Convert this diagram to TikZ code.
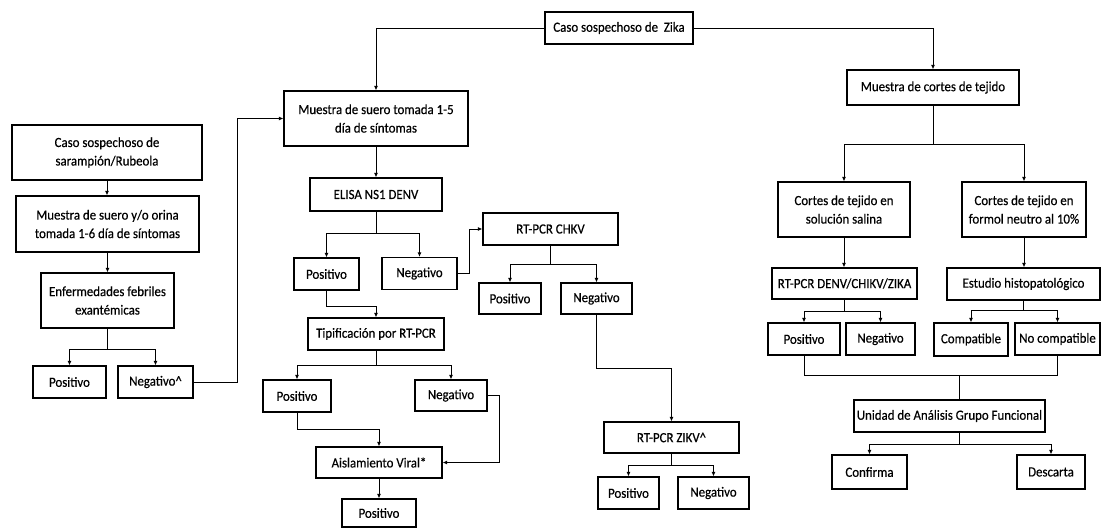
\documentclass[tikz,border=0pt]{standalone}
\usepackage{fontspec}
\setmainfont{Carlito}[FakeStretch=0.92, FakeBold=0.4]
\usetikzlibrary{arrows.meta}

\begin{document}
\begin{tikzpicture}[x=1pt, y=-1pt, font=\fontsize{14}{18.5}\selectfont,
        box/.style = {draw, line width=1.2pt, align=center, inner sep=1pt},
        line/.style = {line width=1pt},
        >={Latex[length=4.5pt,width=4pt]}]
        \useasboundingbox (0,0) rectangle (1101,528);

        \node[box, minimum width=148, minimum height=32] (zika) at (619,28) {Caso sospechoso de~ Zika};

        \node[box, minimum width=184, minimum height=55] (suero) at (376,118.5) {Muestra de suero tomada 1-5\\día de síntomas};
        \node[box, minimum width=132, minimum height=33] (elisa) at (376,194.5) {ELISA NS1 DENV};
        \node[box, minimum width=65, minimum height=32] (pos1) at (326.5,274) {Positivo};
        \node[box, minimum width=75, minimum height=32] (neg1) at (419.5,273.5) {Negativo};
        \node[box, minimum width=135, minimum height=32] (chkv) at (550.5,229) {RT-PCR CHKV};
        \node[box, minimum width=62, minimum height=31] (pos2) at (510,298.5) {Positivo};
        \node[box, minimum width=71, minimum height=31] (neg2) at (596.5,298.5) {Negativo};
        \node[box, minimum width=135, minimum height=31] (zikv) at (671.5,437.5) {RT-PCR ZIKV\^{}};
        \node[box, minimum width=61, minimum height=32] (pos3) at (628.5,493) {Positivo};
        \node[box, minimum width=71, minimum height=32] (neg3) at (713.5,493) {Negativo};
        \node[box, minimum width=136, minimum height=32] (tipif) at (376,334) {Tipificación por RT-PCR};
        \node[box, minimum width=68, minimum height=32] (pos4) at (297,396) {Positivo};
        \node[box, minimum width=72, minimum height=31] (neg4) at (451,395.5) {Negativo};
        \node[box, minimum width=126, minimum height=31] (aisl) at (379,462.5) {Aislamiento Viral*};
        \node[box, minimum width=74, minimum height=28] (pos5) at (379,513) {Positivo};

        \node[box, minimum width=190, minimum height=55] (caso) at (107,152.5) {Caso sospechoso de\\sarampión/Rubeola};
        \node[box, minimum width=183, minimum height=56] (orina) at (107.5,224) {Muestra de suero y/o orina\\tomada 1-6 día de síntomas};
        \node[box, minimum width=133, minimum height=55] (febril) at (107.5,300.5) {Enfermedades febriles\\exantémicas};
        \node[box, minimum width=73, minimum height=32] (pos6) at (69.5,382) {Positivo};
        \node[box, minimum width=75, minimum height=32] (neg6) at (155.5,382) {Negativo\^{}};

        \node[box, minimum width=172, minimum height=35] (cortes) at (933,87.5) {Muestra de cortes de tejido};
        \node[box, minimum width=132, minimum height=55] (salina) at (844,209.5) {Cortes de tejido en\\solución salina};
        \node[box, minimum width=124, minimum height=55] (formol) at (1024,209.5) {Cortes de tejido en\\formol neutro al 10\%};
        \node[box, minimum width=145, minimum height=31] (rtpcr) at (844.5,283.5) {RT-PCR DENV/CHIKV/ZIKA};
        \node[box, minimum width=153, minimum height=32] (estudio) at (1023.5,284) {Estudio histopatológico};
        \node[box, minimum width=72, minimum height=32] (pos7) at (804,339) {Positivo};
        \node[box, minimum width=69, minimum height=32] (neg7) at (880.5,339) {Negativo};
        \node[box, minimum width=74, minimum height=33] (compat) at (971,339.5) {Compatible};
        \node[box, minimum width=85, minimum height=32] (nocomp) at (1057.5,339) {No compatible};
        \node[box, minimum width=191, minimum height=32] (unidad) at (949.5,416) {Unidad de Análisis Grupo Funcional};
        \node[box, minimum width=75, minimum height=34] (conf) at (869.5,472) {Confirma};
        \node[box, minimum width=68, minimum height=34] (desc) at (1051,472) {Descarta};

        \draw[line, ->] (zika.west) -| (suero.north);
        \draw[line, ->] (zika.east) -| (cortes.north);

        \draw[line, ->] (suero) -- (elisa);
        \draw[line, ->] (elisa.south) -- ++(0,22) -| (pos1.north);
        \draw[line, ->] (elisa.south) -- ++(0,22) -| (neg1.north);
        \draw[line, ->] (neg1.east) -- ++(12,0) |- (chkv.west);
        \draw[line, ->] (chkv.south) -- ++(0,19) -| (pos2.north);
        \draw[line, ->] (chkv.south) -- ++(0,19) -| (neg2.north);
        \draw[line, ->] (neg2.south) -- ++(0,54) -| (zikv.north);
        \draw[line, ->] (zikv.south) -- ++(0,12) -| (pos3.north);
        \draw[line, ->] (zikv.south) -- ++(0,12) -| (neg3.north);
        \draw[line, ->] (pos1.south) -- ++(0,16) -| (tipif.north);
        \draw[line, ->] (tipif.south) -- ++(0,15) -| (pos4.north);
        \draw[line, ->] (tipif.south) -- ++(0,15) -| (neg4.north);
        \draw[line, ->] (pos4.south) -- ++(0,17) -| (aisl.north);
        \draw[line, ->] (neg4.east) -- ++(12,0) |- (aisl.east);
        \draw[line, ->] (aisl) -- (pos5);

        \draw[line, ->] (caso.south) -- (caso.south |- orina.north);
        \draw[line, ->] (orina) -- (febril);
        \draw[line, ->] (febril.south) -- ++(0,21) -| (pos6.north);
        \draw[line, ->] (febril.south) -- ++(0,21) -| (neg6.north);
        \draw[line, ->] (neg6.east) -- ++(44,0) |- (suero.west);

        \draw[line, ->] (cortes.south) -- ++(0,39) -| (salina.north);
        \draw[line, ->] (cortes.south) -- ++(0,39) -| (formol.north);
        \draw[line, ->] (salina.south) -- (salina.south |- rtpcr.north);
        \draw[line, ->] (formol.south) -- (formol.south |- estudio.north);
        \draw[line, ->] (rtpcr.south) -- ++(0,12) -| (pos7.north);
        \draw[line, ->] (rtpcr.south) -- ++(0,12) -| (neg7.north);
        \draw[line, ->] (estudio.south) -- ++(0,10) -| (compat.north);
        \draw[line, ->] (estudio.south) -- ++(0,10) -| (nocomp.north);
        \draw[line] (pos7.south) -- ++(0,20) -| (nocomp.south);
        \coordinate (merge) at (959,375);
        \draw[line] (merge) -- (merge |- unidad.north);
        \coordinate (split) at (959,444);
        \draw[line] (merge |- unidad.south) -- (split);
        \draw[line, ->] (split) -| (conf.north);
        \draw[line, ->] (split) -| (desc.north);
\end{tikzpicture}
\end{document}
